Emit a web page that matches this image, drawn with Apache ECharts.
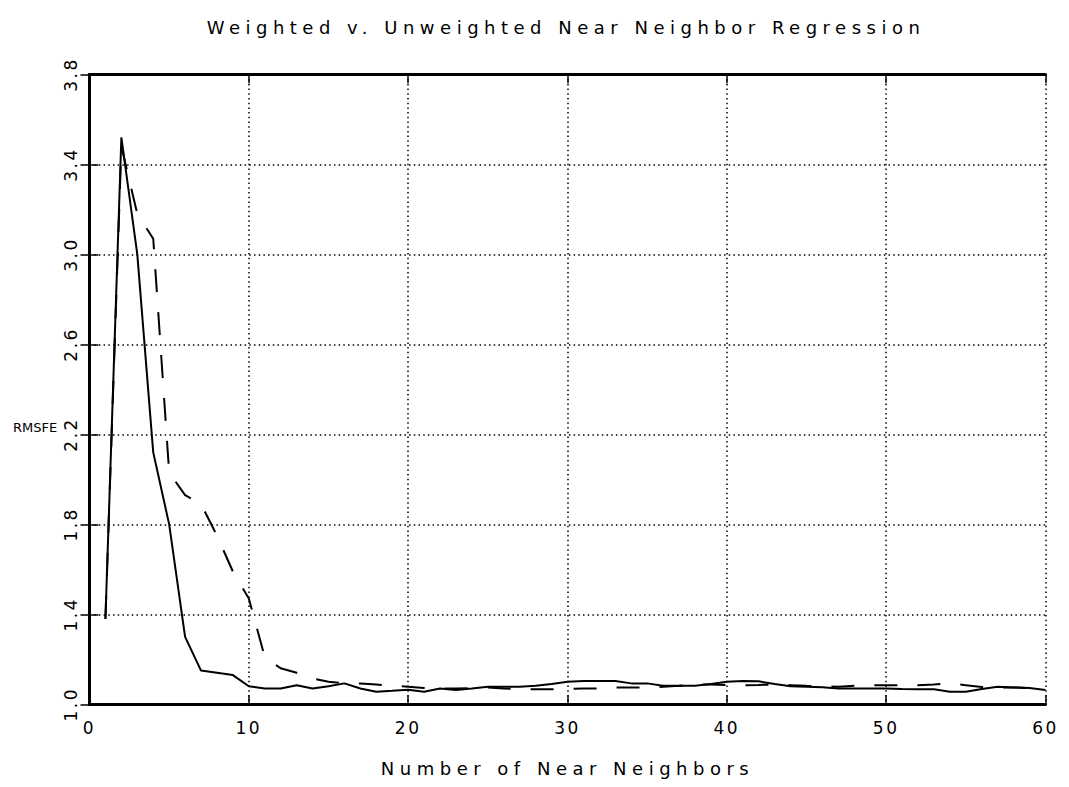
<!DOCTYPE html>
<html>
<head>
<meta charset="utf-8">
<script src="https://cdn.jsdelivr.net/npm/echarts@6/dist/echarts.min.js"></script>
<style>
  html, body { margin: 0; padding: 0; background: #ffffff; }
  #chart { width: 1069px; height: 787px; }
  #chart text[style*="18px"] { letter-spacing: 5.5px; }
  #chart text[style*="17px"] { letter-spacing: 2.5px; }
</style>
</head>
<body>
<div id="chart"></div>
<script>
// Number of near neighbors (x values)
const neighbors = [1,2,3,4,5,6,7,8,9,10,11,12,13,14,15,16,17,18,19,20,
  21,22,23,24,25,26,27,28,29,30,31,32,33,34,35,36,37,38,39,40,
  41,42,43,44,45,46,47,48,49,50,51,52,53,54,55,56,57,58,59,60];

// Solid line RMSFE
const solidRMSFE = [1.38,3.52,3.00,2.12,1.80,1.30,1.15,1.14,1.13,1.08,
  1.07,1.07,1.085,1.07,1.08,1.093,1.07,1.056,1.06,1.065,
  1.056,1.07,1.064,1.07,1.078,1.078,1.078,1.083,1.09,1.10,
  1.104,1.104,1.104,1.093,1.093,1.082,1.082,1.082,1.09,1.10,
  1.104,1.102,1.09,1.08,1.078,1.076,1.07,1.07,1.07,1.07,
  1.068,1.067,1.067,1.056,1.056,1.068,1.078,1.075,1.072,1.064];

// Dashed line RMSFE
const dashedRMSFE = [1.38,3.48,3.18,3.07,2.03,1.93,1.89,1.75,1.59,1.47,
  1.21,1.16,1.14,1.115,1.10,1.093,1.093,1.088,1.083,1.078,
  1.072,1.07,1.07,1.072,1.075,1.07,1.067,1.067,1.067,1.068,
  1.07,1.07,1.075,1.075,1.075,1.078,1.082,1.088,1.088,1.086,
  1.085,1.086,1.088,1.085,1.082,1.08,1.078,1.082,1.085,1.085,
  1.085,1.085,1.088,1.093,1.085,1.077,1.075,1.075,1.072,1.068];

const xTicks = [0,10,20,30,40,50,60];
const yTicks = [1.0,1.4,1.8,2.2,2.6,3.0,3.4,3.8];

const titleText = 'Weighted v. Unweighted Near Neighbor Regression';
const xName = 'Number of Near Neighbors';
const yName = 'RMSFE';

const FONT = 'DejaVu Sans';

const chart = echarts.init(document.getElementById('chart'), null, { renderer: 'svg' });

const solidData = neighbors.map((n, i) => [n, solidRMSFE[i]]);
const dashedData = neighbors.map((n, i) => [n, dashedRMSFE[i]]);

const gridLine = { show: true, lineStyle: { color: '#000', width: 1.5, type: [1.5, 3.2] } };
const boxLine = { show: true, lineStyle: { color: '#000', width: 3 } };
const tickIn = { show: true, inside: true, length: 9, lineStyle: { color: '#000', width: 1.5 } };

chart.setOption({
  animation: false,
  backgroundColor: '#ffffff',
  title: [
    { text: titleText, left: 561, top: 13, textAlign: 'center',
      textStyle: { fontFamily: FONT, fontSize: 18, fontWeight: 'normal', color: '#000' } },
    { text: yName, left: 8, top: 416,
      textStyle: { fontFamily: FONT, fontSize: 13, fontWeight: 'normal', color: '#000' } }
  ],
  grid: { left: 89.5, right: 23.5, top: 74.5, bottom: 82.7, containLabel: false },
  xAxis: [
    { type: 'value', min: 0, max: 60, interval: 10, position: 'bottom',
      name: xName, nameLocation: 'middle', nameGap: 55,
      nameTextStyle: { fontFamily: FONT, fontSize: 18, color: '#000' },
      axisLine: boxLine, axisTick: tickIn, splitLine: gridLine,
      axisLabel: { fontFamily: FONT, fontSize: 17, color: '#000', margin: 15,
        formatter: v => xTicks.includes(v) ? String(v) : '' } },
    { type: 'value', min: 0, max: 60, interval: 10, position: 'top',
      axisLine: boxLine, axisTick: tickIn, splitLine: { show: false },
      axisLabel: { show: false } }
  ],
  yAxis: [
    { type: 'value', min: 1.0, max: 3.8, interval: 0.4, position: 'left',
      axisLine: boxLine, axisTick: tickIn, splitLine: gridLine,
      axisLabel: { fontFamily: FONT, fontSize: 17, color: '#000', rotate: 90, margin: 10,
        formatter: v => yTicks.some(t => Math.abs(t - v) < 1e-6) ? v.toFixed(1) : '' } },
    { type: 'value', min: 1.0, max: 3.8, interval: 0.4, position: 'right',
      axisLine: boxLine, axisTick: tickIn, splitLine: { show: false },
      axisLabel: { show: false } }
  ],
  series: [
    { name: 'Solid', type: 'line', data: solidData, showSymbol: false,
      lineStyle: { color: '#000', width: 2 }, z: 3 },
    { name: 'Dashed', type: 'line', data: dashedData, showSymbol: false,
      lineStyle: { color: '#000', width: 2, type: [23, 20] }, z: 3 }
  ]
});
</script>
</body>
</html>
